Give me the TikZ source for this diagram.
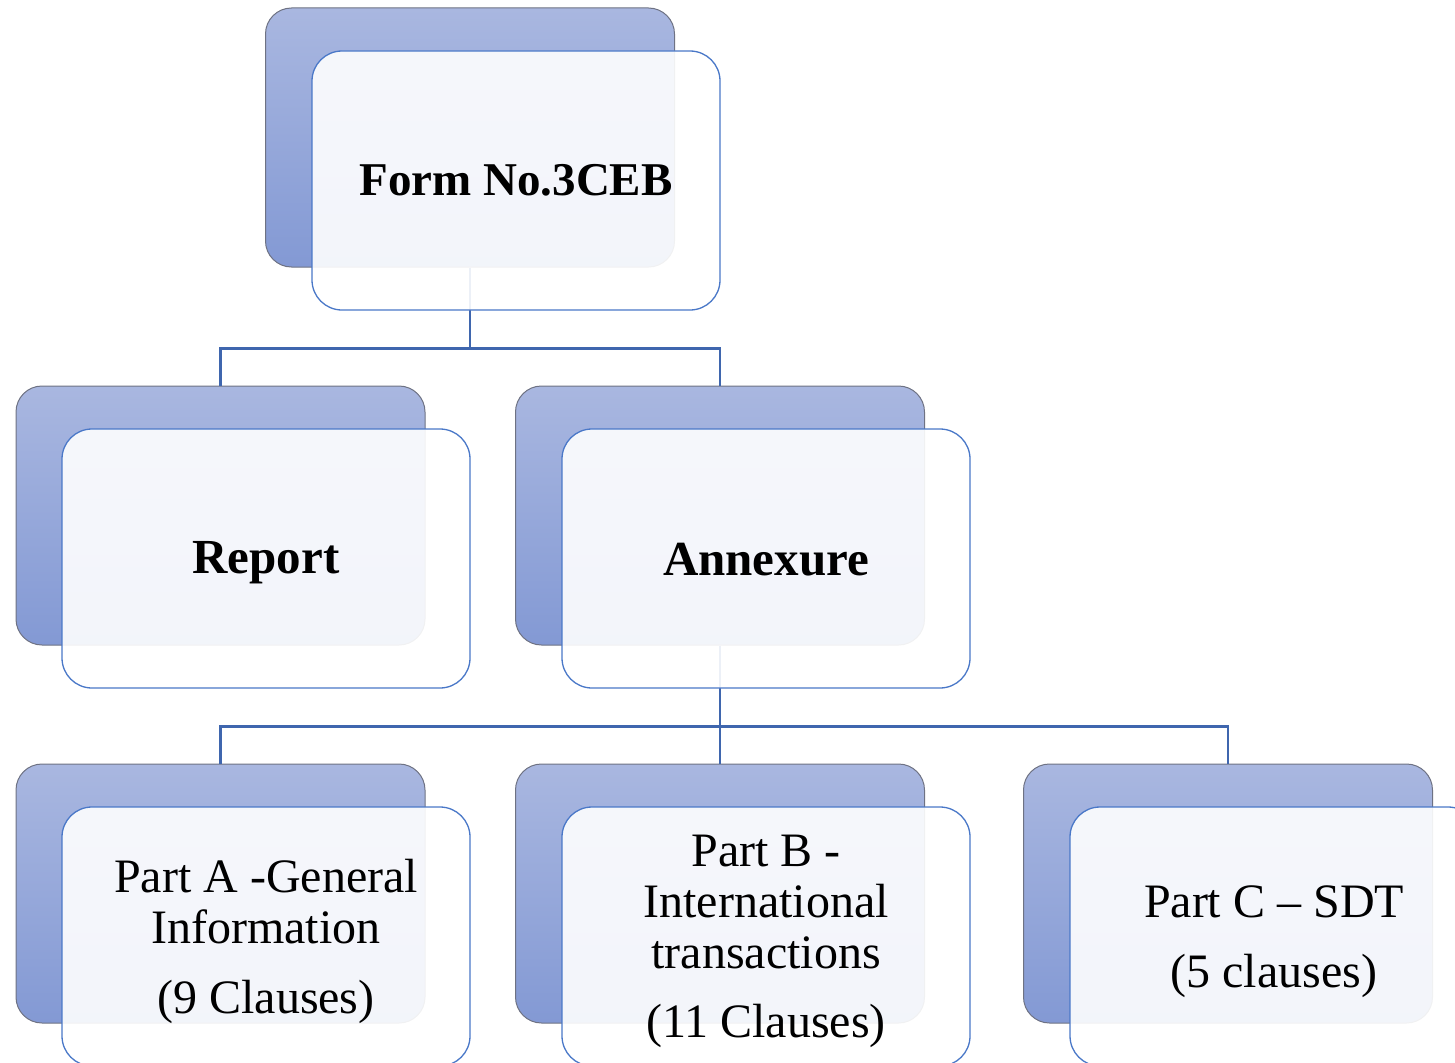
\documentclass[tikz,border=0pt]{standalone}
\usepackage{fontspec}
\setmainfont{Liberation Serif}
\definecolor{backtop}{HTML}{A9B7E0}
\definecolor{backbot}{HTML}{8399D4}
\definecolor{backedge}{HTML}{6E7283}
\definecolor{frontedge}{HTML}{4A78C8}
\definecolor{linkcol}{HTML}{3F66AE}
\tikzset{
  backbox/.style={draw=backedge, line width=1pt, rounded corners=26pt,
    top color=backtop, bottom color=backbot,
    minimum width=409pt, minimum height=259pt, inner sep=0pt},
  frontbox/.style={draw=frontedge, line width=1.3pt, rounded corners=30pt,
    fill=white, fill opacity=0.9,
    minimum width=408pt, minimum height=259pt, inner sep=0pt},
  bodytext/.style={align=center, inner sep=0pt,
    font=\fontsize{48}{51}\selectfont},
  headtext/.style={inner sep=0pt, font=\fontsize{49}{51}\selectfont\bfseries},
  link/.style={draw=linkcol, line width=2.6pt}
}
\begin{document}
\begin{tikzpicture}[x=1pt, y=-1pt]
\useasboundingbox (0,0) rectangle (1455,1062);
% back panels
\node[backbox] (formB)   at (470,137.5) {};
\node[backbox] (reportB) at (220.5,515.5) {};
\node[backbox] (annexB)  at (720,515.5) {};
\node[backbox] (partaB)  at (220.5,893.5) {};
\node[backbox] (partbB)  at (720,893.5) {};
\node[backbox] (partcB)  at (1228,893.5) {};
% tree connectors
\draw[link] (formB.south) -- ++(0,81) coordinate (j1) -| (reportB.north);
\draw[link] (j1) -| (annexB.north);
\draw[link] (annexB.south) -- ++(0,81) coordinate (j2) -| (partaB.north);
\draw[link] (j2) -- (partbB.north);
\draw[link] (j2) -| (partcB.north);
% front panels
\node[frontbox] (form)   at (516,180.5) {};
\node[frontbox] (report) at (266,558.5) {};
\node[frontbox] (annex)  at (766,558.5) {};
\node[frontbox] (parta)  at (266,936.5) {};
\node[frontbox] (partb)  at (766,936.5) {};
\node[frontbox] (partc)  at (1274,936.5) {};
% labels
\node[headtext, font=\fontsize{47}{51}\selectfont\bfseries] (formT)
  at ([yshift=0pt]form.center) {Form No.3CEB};
\node[headtext] (reportT) at ([yshift=-4pt]report.center) {Report};
\node[headtext] (annexT)  at ([yshift=-1pt]annex.center)  {Annexure};
\node[bodytext] (partaT)  at ([yshift=-5pt]parta.center)
  {Part A -General\\Information\\[19pt](9 Clauses)};
\node[bodytext] (partbT)  at ([yshift=-5pt]partb.center)
  {Part B -\\International\\transactions\\[18pt](11 Clauses)};
\node[bodytext] (partcT)  at ([yshift=-5pt]partc.center)
  {Part C -- SDT\\[19pt](5 clauses)};
\end{tikzpicture}
\end{document}
